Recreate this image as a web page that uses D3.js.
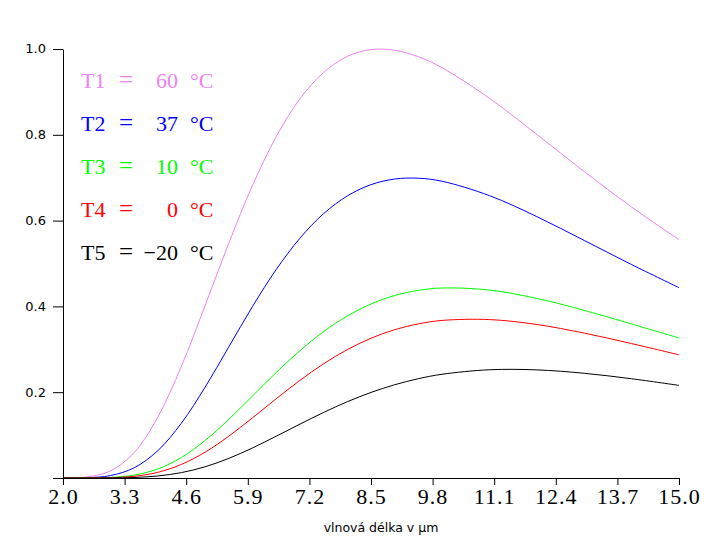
<!DOCTYPE html>
<html>
<head>
<meta charset="utf-8">
<script src="https://cdn.jsdelivr.net/npm/d3@7"></script>
<style>
  body { margin: 0; background: #fff; }
  svg { display: block; }
</style>
</head>
<body>
<svg id="chart" width="726" height="550"></svg>
<script>
// wavelength in µm, relative spectral radiance
const wavelengths = [2.0, 2.5, 3.0, 3.5, 4.0, 4.5, 5.0, 5.5, 6.0, 6.5, 7.0, 7.5, 8.0, 8.5, 9.0, 9.5, 10, 11, 12, 13, 14, 15];
const t1 = [0.0001, 0.0023, 0.0163, 0.0591, 0.1416, 0.2608, 0.4021, 0.5477, 0.6822, 0.7958, 0.8839, 0.9454, 0.9826, 0.9986, 0.9970, 0.9819, 0.9563, 0.8850, 0.8008, 0.7142, 0.6315, 0.5555];
const t2 = [0.0000, 0.0006, 0.0056, 0.0237, 0.0636, 0.1280, 0.2119, 0.3059, 0.3999, 0.4861, 0.5590, 0.6162, 0.6575, 0.6838, 0.6969, 0.6988, 0.6917, 0.6582, 0.6093, 0.5537, 0.4975, 0.4436];
const t3 = [0.0000, 0.0001, 0.0013, 0.0067, 0.0210, 0.0479, 0.0875, 0.1369, 0.1913, 0.2460, 0.2969, 0.3413, 0.3777, 0.4056, 0.4253, 0.4374, 0.4429, 0.4381, 0.4186, 0.3908, 0.3590, 0.3263];
const t4 = [0.0000, 0.0001, 0.0007, 0.0039, 0.0132, 0.0317, 0.0603, 0.0976, 0.1403, 0.1847, 0.2276, 0.2663, 0.2992, 0.3258, 0.3457, 0.3593, 0.3673, 0.3693, 0.3578, 0.3378, 0.3133, 0.2871];
const t5 = [0.0000, 0.0000, 0.0002, 0.0012, 0.0047, 0.0126, 0.0262, 0.0458, 0.0701, 0.0974, 0.1256, 0.1528, 0.1778, 0.1995, 0.2174, 0.2315, 0.2418, 0.2523, 0.2520, 0.2441, 0.2313, 0.2159];

const seriesNames = ["T1", "T2", "T3", "T4", "T5"];
const seriesTemps = ["60", "37", "10", "0", "\u221220"];
const seriesColors = ["violet", "blue", "#00ff00", "red", "black"];

const xTicks = [2.0, 3.3, 4.6, 5.9, 7.2, 8.5, 9.8, 11.1, 12.4, 13.7, 15.0];
const yTicks = [0, 0.2, 0.4, 0.6, 0.8, 1.0];
const xTitle = "vlnová délka v μm";

const series = [t1, t2, t3, t4, t5];

const svg = d3.select("#chart");

const x = d3.scaleLinear().domain([2, 15]).range([63, 679]);
const y = d3.scaleLinear().domain([0, 1]).range([478, 49]);

// curves
const line = d3.line()
  .x((d, i) => x(wavelengths[i]))
  .y(d => y(d))
  .curve(d3.curveCatmullRom.alpha(0.5));

svg.append("g")
  .selectAll("path")
  .data(series)
  .join("path")
  .attr("d", line)
  .attr("fill", "none")
  .attr("stroke", (d, i) => seriesColors[i])
  .attr("stroke-width", 1);

// y axis
const yAxis = svg.append("g")
  .attr("transform", `translate(${x(2)},0)`)
  .call(d3.axisLeft(y)
    .tickValues(yTicks)
    .tickSize(10)
    .tickSizeOuter(0)
    .tickPadding(7)
    .tickFormat(d => d === 0 ? "" : d3.format(".1f")(d)));
yAxis.selectAll("text")
  .attr("dy", "0.3em")
  .style("font-family", "DejaVu Sans, sans-serif")
  .style("font-size", "13px")
  .attr("fill", "#000");

// x axis
const xAxis = svg.append("g")
  .attr("transform", `translate(0,${y(0)})`)
  .call(d3.axisBottom(x)
    .tickValues(xTicks)
    .tickSize(7)
    .tickSizeOuter(0)
    .tickPadding(3)
    .tickFormat(d3.format(".1f")));
xAxis.selectAll("text")
  .style("font-family", "Liberation Serif, serif")
  .style("font-size", "22px")
  .style("letter-spacing", "1px")
  .attr("fill", "#000");

svg.selectAll(".domain, .tick line").attr("stroke", "#000");

svg.append("text")
  .attr("x", 381)
  .attr("y", 532)
  .attr("text-anchor", "middle")
  .style("font-family", "DejaVu Sans, sans-serif")
  .style("font-size", "12.5px")
  .text(xTitle);

// legend
const legend = svg.append("g")
  .style("font-family", "Liberation Serif, serif")
  .style("font-size", "22px");

const rows = legend.selectAll("g")
  .data(seriesNames)
  .join("g")
  .attr("transform", (d, i) => `translate(0,${88 + i * 43})`)
  .attr("fill", (d, i) => seriesColors[i]);

rows.append("text").attr("x", 81).text(d => d);
rows.append("text").attr("x", 119).style("font-size", "25px").text("=");
rows.append("text").attr("x", 178).attr("text-anchor", "end").text((d, i) => seriesTemps[i]);
rows.append("text").attr("x", 190).text("°C");
</script>
</body>
</html>
